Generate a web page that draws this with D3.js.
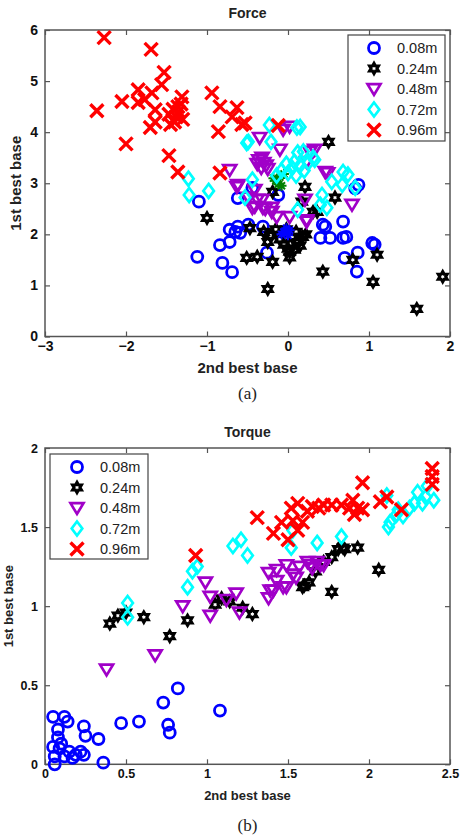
<!DOCTYPE html>
<html>
<head>
<meta charset="utf-8">
<script src="https://cdn.jsdelivr.net/npm/d3@7"></script>
<style>
  html, body { margin: 0; padding: 0; background: #fff; }
  svg { display: block; }
  text { font-family: "Liberation Sans", Arial, Helvetica, sans-serif; }
</style>
</head>
<body>
<svg id="chart" width="462" height="839"></svg>
<script>
// ---- Data -------------------------------------------------------------
const seriesNames = ["0.08m", "0.24m", "0.48m", "0.72m", "0.96m"];

const forceTicksX = [-3, -2, -1, 0, 1, 2];
const forceTicksY = [0, 1, 2, 3, 4, 5, 6];
const torqueTicksX = [0, 0.5, 1, 1.5, 2, 2.5];
const torqueTicksY = [0, 0.5, 1, 1.5, 2];

// Force: [2nd best base, 1st best base]
const force008 = [[-1.10,2.64],[-0.62,2.71],[-0.44,2.91],[-1.12,1.56],[-0.84,1.79],[-0.72,1.85],[-0.65,2.05],[-0.59,2.03],[-0.49,2.19],[-0.81,1.44],[-0.69,1.26],[-0.26,1.64],[-0.31,2.15],[-0.72,2.09],[-0.62,2.15],[-0.12,2.77],[0.43,2.19],[0.40,1.93],[0.52,1.93],[0.68,2.25],[0.70,1.54],[0.68,1.93],[0.87,2.97],[0.83,2.90],[0.46,2.15],[0.72,1.95],[1.04,1.83],[1.07,1.80],[0.86,1.64],[0.85,1.27]];
const force024 = [[-1.00,2.32],[-0.47,2.12],[-0.51,1.54],[-0.38,1.56],[-0.19,1.46],[-0.25,0.93],[0.43,1.27],[0.02,1.66],[0.50,3.81],[0.58,2.72],[0.31,2.44],[0.80,1.50],[1.10,1.60],[1.05,1.07],[1.59,0.54],[1.91,1.17],[-0.19,2.83],[0.21,2.93],[0.17,2.64],[0.36,2.44],[-0.30,2.05],[-0.22,1.98],[-0.15,2.10],[-0.10,1.90],[-0.05,1.80],[0.00,1.72],[0.05,1.95],[0.10,2.05],[0.12,1.85],[0.18,1.95],[0.22,2.00],[0.08,1.70],[-0.02,2.10],[-0.25,1.85],[0.15,1.78],[0.02,1.55]];
const force048 = [[-0.35,3.89],[-0.72,3.26],[-0.63,2.93],[-0.49,2.72],[-0.32,2.68],[-0.41,2.54],[-0.06,4.05],[-0.10,3.66],[0.02,4.11],[-0.36,3.45],[-0.30,3.40],[-0.33,3.30],[-0.27,3.35],[-0.25,3.28],[-0.38,3.38],[-0.32,3.50],[-0.62,2.97],[-0.41,2.87],[-0.38,2.68],[-0.31,2.52],[-0.20,2.52],[-0.44,2.52],[0.27,3.62],[0.33,3.66],[0.23,3.42],[0.46,3.22],[0.49,3.20],[0.21,2.68],[0.02,2.34],[-0.14,2.34],[0.79,2.58],[0.23,2.28],[-0.28,2.50],[-0.20,2.44],[0.23,2.25]];
const force072 = [[-1.23,3.09],[-1.22,2.77],[-0.98,2.85],[-0.51,3.79],[-0.49,3.81],[-0.23,4.14],[-0.21,3.81],[0.11,4.09],[-0.44,3.07],[-0.53,2.72],[-0.14,3.15],[-0.08,3.25],[0.00,3.20],[0.05,3.30],[0.10,3.15],[0.15,3.35],[0.20,3.25],[0.25,3.40],[-0.02,3.38],[0.08,3.42],[0.12,3.60],[0.33,3.46],[0.19,3.62],[0.68,3.22],[0.74,3.17],[0.54,3.03],[0.83,2.91],[0.67,2.97],[0.42,2.77],[0.40,2.58],[0.48,2.52],[0.12,2.48],[0.15,4.10],[0.31,3.50]];
const force096 = [[-2.27,5.85],[-1.69,5.62],[-1.53,5.17],[-1.56,4.93],[-1.85,4.83],[-1.68,4.77],[-2.05,4.60],[-1.85,4.58],[-1.77,4.64],[-2.36,4.42],[-1.64,4.44],[-1.47,4.35],[-1.42,4.45],[-1.38,4.30],[-1.35,4.40],[-1.32,4.55],[-1.40,4.20],[-1.30,4.25],[-1.45,4.15],[-1.36,4.50],[-1.31,4.69],[-1.70,4.09],[-1.64,4.20],[-0.94,4.77],[-0.84,4.50],[-0.63,4.48],[-0.69,4.30],[-0.57,4.15],[-0.53,4.18],[-0.86,4.01],[-2.00,3.77],[-1.47,3.54],[-1.36,3.22],[-0.84,3.20],[-0.12,4.13]];
// group centres drawn as asterisks
const forceCentreBlue = [[-0.05,2.05],[-0.02,2.12],[0.00,1.98],[-0.08,2.00],[0.02,2.08]];
const forceCentreGreen = [[-0.15,3.05],[-0.10,3.12],[-0.12,2.98],[-0.05,3.18],[-0.18,3.10],[-0.08,2.95]];

// Torque: [2nd best base, 1st best base]
const torque008 = [[0.05,0.30],[0.12,0.30],[0.14,0.27],[0.08,0.22],[0.24,0.24],[0.25,0.18],[0.33,0.16],[0.08,0.17],[0.05,0.11],[0.09,0.10],[0.15,0.08],[0.22,0.08],[0.19,0.06],[0.24,0.06],[0.06,0.05],[0.12,0.05],[0.06,0.00],[0.36,0.01],[0.47,0.26],[0.58,0.27],[0.73,0.39],[0.82,0.48],[0.76,0.25],[0.77,0.20],[1.08,0.34],[0.10,0.13],[0.17,0.04]];
const torque024 = [[0.40,0.89],[0.45,0.94],[0.50,0.96],[0.61,0.93],[0.77,0.81],[0.88,0.91],[1.05,1.01],[1.09,1.05],[1.14,1.03],[1.22,0.99],[1.28,0.95],[1.77,1.09],[2.06,1.23],[1.59,1.12],[1.63,1.15],[1.77,1.31],[1.81,1.36],[1.85,1.36],[1.93,1.37],[1.60,1.13],[1.84,1.37],[1.72,1.28],[1.67,1.22]];
const torque048 = [[0.38,0.60],[0.68,0.69],[0.85,1.00],[0.99,1.15],[1.02,1.06],[1.02,0.94],[1.12,1.04],[1.18,1.08],[1.20,0.96],[1.38,1.21],[1.39,1.10],[1.38,1.05],[1.43,1.16],[1.49,1.12],[1.53,1.20],[1.57,1.25],[1.62,1.28],[1.65,1.24],[1.70,1.26],[1.43,1.23],[1.49,1.26],[1.64,1.26],[1.68,1.28],[1.72,1.26],[1.41,1.10],[1.47,1.12],[1.55,1.18]];
const torque072 = [[0.51,1.02],[0.51,0.93],[0.88,1.12],[0.91,1.22],[0.94,1.25],[1.16,1.38],[1.21,1.42],[1.25,1.32],[1.52,1.37],[1.53,1.48],[1.68,1.40],[1.83,1.44],[2.12,1.50],[2.11,1.70],[2.18,1.61],[2.21,1.57],[2.28,1.65],[2.35,1.69],[2.30,1.72],[2.40,1.67],[2.36,1.76],[2.13,1.53],[2.17,1.58],[2.25,1.62],[2.33,1.65]];
const torque096 = [[0.93,1.32],[1.31,1.56],[1.41,1.46],[1.46,1.53],[1.53,1.54],[1.52,1.62],[1.56,1.65],[1.56,1.48],[1.59,1.53],[1.65,1.63],[1.69,1.62],[1.72,1.64],[1.77,1.64],[1.83,1.64],[1.90,1.67],[1.91,1.58],[1.96,1.78],[1.93,1.62],[1.96,1.61],[2.07,1.66],[2.11,1.69],[2.20,1.61],[2.39,1.87],[2.39,1.77],[2.39,1.82],[1.50,1.42],[1.62,1.60],[1.88,1.62]];

// ---- Marker styles ------------------------------------------------------
const styles = [
  { shape: "circle",   color: "#0000ff" },
  { shape: "hexagram", color: "#000000" },
  { shape: "triDown",  color: "#a000c8" },
  { shape: "diamond",  color: "#00ffff" },
  { shape: "cross",    color: "#ff0000" }
];

function markerPath(shape) {
  switch (shape) {
    case "hexagram": {
      const R = 5.2, r = R / Math.sqrt(3), pts = [];
      for (let i = 0; i < 12; i++) {
        const a = -Math.PI / 2 + i * Math.PI / 6, rad = i % 2 ? r : R;
        pts.push([rad * Math.cos(a), rad * Math.sin(a)]);
      }
      return "M" + pts.map(p => p.join(",")).join("L") + "Z";
    }
    case "triDown": return "M-6.5,-4.8L6.5,-4.8L0,6Z";
    case "diamond": return "M0,-7L5.3,0L0,7L-5.3,0Z";
    case "cross":   return "M-6.5,-6.5L6.5,6.5M-6.5,6.5L6.5,-6.5";
    case "asterisk": return "M-5,0L5,0M0,-5L0,5M-3.5,-3.5L3.5,3.5M-3.5,3.5L3.5,-3.5";
  }
  return null;
}

function drawMarker(sel, shape, color) {
  if (shape === "circle") {
    return sel.append("circle").attr("r", 5.5)
      .attr("fill", "none").attr("stroke", color).attr("stroke-width", 2.8);
  }
  const w = shape === "cross" ? 3.4 : shape === "asterisk" ? 2 : shape === "hexagram" ? 3 : 2.7;
  return sel.append("path").attr("d", markerPath(shape))
    .attr("fill", "none").attr("stroke", color).attr("stroke-width", w)
    .attr("stroke-linejoin", "miter");
}

const svg = d3.select("#chart");

// ---- One scatter panel ---------------------------------------------------
function panel(opts) {
  const { xDomain, yDomain, xTicks, yTicks, top, bottom, left, right,
          title, titleY, series, extras, tickFont, labelFont, ylabelX,
          xlabelY, captionY, caption, legendBox } = opts;

  const x = d3.scaleLinear().domain(xDomain).range([left, right]);
  const y = d3.scaleLinear().domain(yDomain).range([bottom, top]);
  const g = svg.append("g");

  const axisColor = "#555";
  const fmt = d => d3.format("")(d);

  const styleAxis = (a, showText) => {
    a.select(".domain").remove();
    a.selectAll(".tick line").attr("stroke", axisColor).attr("stroke-width", 1.2);
    a.selectAll(".tick text")
      .attr("fill", "#111").style("font-size", tickFont + "px")
      .style("font-weight", "bold")
      .style("font-family", "'Liberation Sans', Arial, sans-serif")
      .style("display", showText ? null : "none");
  };

  g.append("g").attr("transform", `translate(0,${bottom})`)
    .call(d3.axisBottom(x).tickValues(xTicks).tickFormat(fmt).tickSizeInner(-5).tickSizeOuter(0).tickPadding(5))
    .call(a => styleAxis(a, true));
  g.append("g").attr("transform", `translate(0,${top})`)
    .call(d3.axisTop(x).tickValues(xTicks).tickSizeInner(-5).tickSizeOuter(0))
    .call(a => styleAxis(a, false));
  g.append("g").attr("transform", `translate(${left},0)`)
    .call(d3.axisLeft(y).tickValues(yTicks).tickFormat(fmt).tickSizeInner(-5).tickSizeOuter(0).tickPadding(7))
    .call(a => styleAxis(a, true));
  g.append("g").attr("transform", `translate(${right},0)`)
    .call(d3.axisRight(y).tickValues(yTicks).tickSizeInner(-5).tickSizeOuter(0))
    .call(a => styleAxis(a, false));

  // plot frame
  g.append("rect").attr("x", left).attr("y", top)
    .attr("width", right - left).attr("height", bottom - top)
    .attr("fill", "none").attr("stroke", axisColor).attr("stroke-width", 1.5);

  // markers, series in order with centre asterisks layered in between
  const marks = g.append("g");
  series.forEach((pts, i) => {
    const st = styles[i];
    pts.forEach(p => {
      const m = marks.append("g").attr("transform", `translate(${x(p[0])},${y(p[1])})`);
      drawMarker(m, st.shape, st.color);
    });
    (extras[i] || []).forEach(ex => {
      ex.pts.forEach(p => {
        const m = marks.append("g").attr("transform", `translate(${x(p[0])},${y(p[1])})`);
        drawMarker(m, "asterisk", ex.color);
      });
    });
  });

  // titles and labels
  g.append("text").attr("x", (left + right) / 2 + 0).attr("y", titleY)
    .attr("text-anchor", "middle").style("font-size", "14px").style("font-weight", "bold")
    .attr("fill", "#222").text(title);
  g.append("text").attr("x", (left + right) / 2).attr("y", xlabelY)
    .attr("text-anchor", "middle").style("font-size", labelFont + "px").style("font-weight", "bold")
    .attr("fill", "#222").text("2nd best base");
  g.append("text")
    .attr("transform", `translate(${ylabelX},${(top + bottom) / 2}) rotate(-90)`)
    .attr("text-anchor", "middle").style("font-size", labelFont + "px").style("font-weight", "bold")
    .attr("fill", "#222").text("1st best base");
  g.append("text").attr("x", (left + right) / 2).attr("y", captionY)
    .attr("text-anchor", "middle").style("font-size", "17px")
    .style("font-family", "'Liberation Serif', 'Times New Roman', serif")
    .attr("fill", "#222").text(caption);

  // legend
  const lb = legendBox;
  const lg = g.append("g");
  lg.append("rect").attr("x", lb.x).attr("y", lb.y).attr("width", lb.w).attr("height", lb.h)
    .attr("fill", "#fff").attr("stroke", "#444").attr("stroke-width", 1.2);
  seriesNames.forEach((name, i) => {
    const cy = lb.y + 13 + i * 20.5;
    const m = lg.append("g").attr("transform", `translate(${lb.x + lb.mx},${cy})`);
    drawMarker(m, styles[i].shape, styles[i].color);
    lg.append("text").attr("x", lb.x + lb.tx).attr("y", cy + 5)
      .style("font-size", "14.5px").attr("fill", "#222").text(name);
  });
}

panel({
  xDomain: [-3, 2], yDomain: [0, 6], xTicks: forceTicksX, yTicks: forceTicksY,
  top: 30, bottom: 336.5, left: 45, right: 450,
  title: "Force", titleY: 18,
  series: [force008, force024, force048, force072, force096],
  extras: { 1: [{ pts: forceCentreBlue, color: "#0000ff" }], 2: [{ pts: forceCentreGreen, color: "#008000" }] },
  tickFont: 14, labelFont: 15, ylabelX: 21, xlabelY: 373, captionY: 399, caption: "(a)",
  legendBox: { x: 348, y: 35, w: 97, h: 106, mx: 26, tx: 49 }
});

panel({
  xDomain: [0, 2.5], yDomain: [0, 2], xTicks: torqueTicksX, yTicks: torqueTicksY,
  top: 448, bottom: 764.3, left: 45, right: 450,
  title: "Torque", titleY: 437,
  series: [torque008, torque024, torque048, torque072, torque096],
  extras: {},
  tickFont: 12.5, labelFont: 13, ylabelX: 13, xlabelY: 800, captionY: 831, caption: "(b)",
  legendBox: { x: 50, y: 454, w: 98, h: 105, mx: 27, tx: 50 }
});
</script>
</body>
</html>
